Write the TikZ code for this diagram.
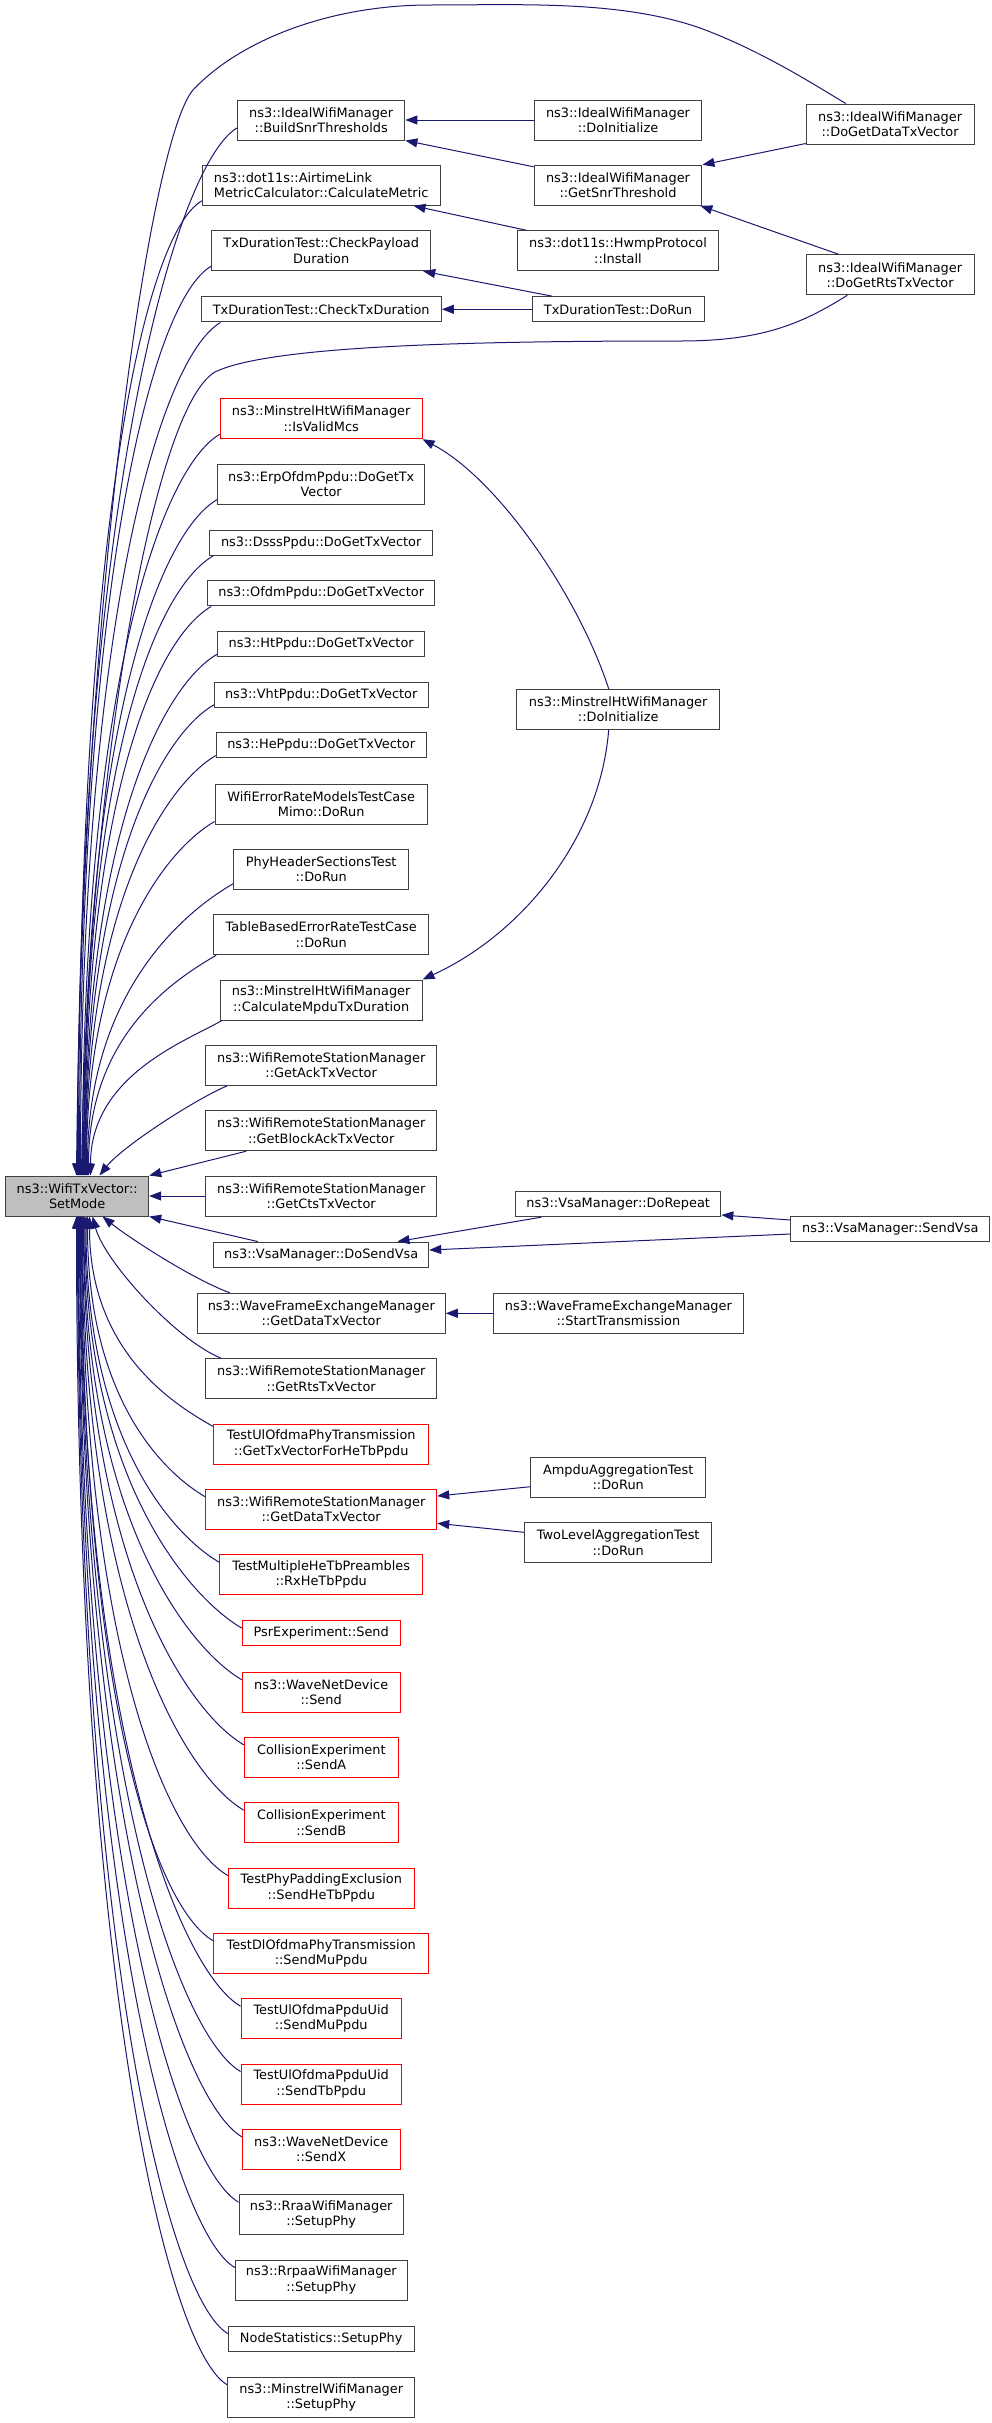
\documentclass[tikz,border=0pt]{standalone}
\usepackage{fontspec}
\setmainfont{DejaVu Sans}
\usetikzlibrary{arrows.meta}
\definecolor{edgeblue}{HTML}{191970}
\definecolor{boxline}{HTML}{404040}
\definecolor{boxgray}{HTML}{BFBFBF}
\begin{document}
\begin{tikzpicture}[x=1pt,y=-1pt,
  box/.style={draw=boxline, line width=1pt, fill=white, inner sep=0pt, minimum height=40pt, align=center, font=\fontsize{12.9}{15.2}\selectfont},
  redbox/.style={box, draw=red},
  boxw/.style={minimum width=#1pt},
  oneline/.style={minimum height=25.3pt},
  edge/.style={draw=edgeblue, line width=1pt, -{Triangle[length=12pt,width=9pt]}}
]
\fill[white] (0,0) rectangle (992,2423);
\useasboundingbox (0,0) rectangle (992,2423);

% ---------- nodes ----------
\node[box, boxw=143, fill=boxgray] (setmode) at (77.2,1196) {ns3::WifiTxVector::\\SetMode};

\node[box, boxw=167.4] (buildsnr) at (321.2,120) {ns3::IdealWifiManager\\::BuildSnrThresholds};
\node[box, boxw=237.7, align=left] (calcmetric) at (321.2,185.3) {ns3::dot11s::AirtimeLink\\MetricCalculator::CalculateMetric};
\node[box, boxw=219] (checkpayload) at (321.2,250.7) {TxDurationTest::CheckPayload\\Duration};
\node[box, boxw=240.3, oneline] (checktx) at (321.2,309.3) {TxDurationTest::CheckTxDuration};
\node[box, boxw=167.8] (idealinit) at (618,120) {ns3::IdealWifiManager\\::DoInitialize};
\node[box, boxw=167.8] (getsnr) at (618,185.3) {ns3::IdealWifiManager\\::GetSnrThreshold};
\node[box, boxw=201.2] (hwmp) at (618,250.7) {ns3::dot11s::HwmpProtocol\\::Install};
\node[box, boxw=172, oneline] (txdorun) at (618,309.3) {TxDurationTest::DoRun};
\node[box, boxw=167.8] (dgd) at (890.1,124) {ns3::IdealWifiManager\\::DoGetDataTxVector};
\node[box, boxw=167.8] (dgr) at (890.1,274.8) {ns3::IdealWifiManager\\::DoGetRtsTxVector};

\node[redbox, boxw=201.7] (isvalid) at (321.2,418.7) {ns3::MinstrelHtWifiManager\\::IsValidMcs};
\node[box, boxw=207] (erp) at (321.2,484) {ns3::ErpOfdmPpdu::DoGetTx\\Vector};
\node[box, boxw=223, oneline] (dsss) at (321.2,542.7) {ns3::DsssPpdu::DoGetTxVector};
\node[box, boxw=227, oneline] (ofdm) at (321.2,593.3) {ns3::OfdmPpdu::DoGetTxVector};
\node[box, boxw=207, oneline] (ht) at (321.2,644) {ns3::HtPpdu::DoGetTxVector};
\node[box, boxw=213.7, oneline] (vht) at (321.2,694.7) {ns3::VhtPpdu::DoGetTxVector};
\node[box, boxw=209.7, oneline] (he) at (321.2,745.3) {ns3::HePpdu::DoGetTxVector};
\node[box, boxw=212.3] (wifierr) at (321.2,804) {WifiErrorRateModelsTestCase\\Mimo::DoRun};
\node[box, boxw=175.4] (phyheader) at (321.2,869.3) {PhyHeaderSectionsTest\\::DoRun};
\node[box, boxw=215] (tablebased) at (321.2,934.7) {TableBasedErrorRateTestCase\\::DoRun};
\node[box, boxw=201.7] (calcmpdu) at (321.2,1000) {ns3::MinstrelHtWifiManager\\::CalculateMpduTxDuration};
\node[box, boxw=203] (mhtinit) at (618.2,709.3) {ns3::MinstrelHtWifiManager\\::DoInitialize};

\node[box, boxw=231] (getack) at (321.2,1065.3) {ns3::WifiRemoteStationManager\\::GetAckTxVector};
\node[box, boxw=231] (getblockack) at (321.2,1130.7) {ns3::WifiRemoteStationManager\\::GetBlockAckTxVector};
\node[box, boxw=231] (getcts) at (321.2,1196) {ns3::WifiRemoteStationManager\\::GetCtsTxVector};
\node[box, boxw=215, oneline] (dosendvsa) at (321.2,1254.7) {ns3::VsaManager::DoSendVsa};
\node[box, boxw=205.3, oneline] (dorepeat) at (618.2,1204) {ns3::VsaManager::DoRepeat};
\node[box, boxw=198.8, oneline] (sendvsa) at (890.3,1229.3) {ns3::VsaManager::SendVsa};
\node[box, boxw=248] (wfegdtv) at (321.3,1313.3) {ns3::WaveFrameExchangeManager\\::GetDataTxVector};
\node[box, boxw=249.4] (starttx) at (618.4,1313.3) {ns3::WaveFrameExchangeManager\\::StartTransmission};
\node[box, boxw=231] (getrts) at (321.2,1378.7) {ns3::WifiRemoteStationManager\\::GetRtsTxVector};
\node[redbox, boxw=215] (testulphy) at (321.2,1444) {TestUlOfdmaPhyTransmission\\::GetTxVectorForHeTbPpdu};
\node[redbox, boxw=231] (wrsmgdtv) at (321.2,1509.3) {ns3::WifiRemoteStationManager\\::GetDataTxVector};
\node[box, boxw=174.6] (ampdu) at (618.2,1477.3) {AmpduAggregationTest\\::DoRun};
\node[box, boxw=187.5] (twolevel) at (618.2,1542.7) {TwoLevelAggregationTest\\::DoRun};
\node[redbox, boxw=203] (testmulti) at (321.2,1574.7) {TestMultipleHeTbPreambles\\::RxHeTbPpdu};
\node[redbox, boxw=157.7, oneline] (psr) at (321.2,1633.3) {PsrExperiment::Send};
\node[redbox, boxw=157.7] (wnsend) at (321.2,1692.3) {ns3::WaveNetDevice\\::Send};
\node[redbox, boxw=154] (senda) at (321.3,1757.3) {CollisionExperiment\\::SendA};
\node[redbox, boxw=154] (sendb) at (321.3,1822.7) {CollisionExperiment\\::SendB};
\node[redbox, boxw=186] (padding) at (321.3,1888) {TestPhyPaddingExclusion\\::SendHeTbPpdu};
\node[redbox, boxw=215] (dlofdma) at (321.2,1953.3) {TestDlOfdmaPhyTransmission\\::SendMuPpdu};
\node[redbox, boxw=160.3] (ulmu) at (321.2,2018.7) {TestUlOfdmaPpduUid\\::SendMuPpdu};
\node[redbox, boxw=160.3] (ultb) at (321.2,2084) {TestUlOfdmaPpduUid\\::SendTbPpdu};
\node[redbox, boxw=157.7] (sendx) at (321.2,2149.3) {ns3::WaveNetDevice\\::SendX};
\node[box, boxw=164.3] (rraa) at (321.2,2214.7) {ns3::RraaWifiManager\\::SetupPhy};
\node[box, boxw=172] (rrpaa) at (321.3,2280) {ns3::RrpaaWifiManager\\::SetupPhy};
\node[box, boxw=185.7, oneline] (nodestat) at (321.2,2338.7) {NodeStatistics::SetupPhy};
\node[box, boxw=187] (minstrelsetup) at (321.2,2397.3) {ns3::MinstrelWifiManager\\::SetupPhy};

% ---------- edges into SetMode from above ----------
\draw[edge] ([xshift=40pt]dgd.north west) .. controls (815,85) and (760,50) .. (700,28) .. controls (620,0) and (520,5) .. (430,5) .. controls (330,5) and (240,40) .. (193,90) .. controls (150,140) and (82,600) .. ([xshift=71.3pt]setmode.north west);
\draw[edge] ([yshift=-8pt]buildsnr.west) .. controls +(-60,35) and +(0,-681) .. ([xshift=72.3pt]setmode.north west);
\draw[edge] ([yshift=5pt]calcmetric.south west) .. controls +(-60,35) and +(0,-634) .. ([xshift=73.3pt]setmode.north west);
\draw[edge] ([yshift=5pt]checkpayload.south west) .. controls +(-60,35) and +(0,-592) .. ([xshift=74.3pt]setmode.north west);
\draw[edge] ([xshift=20pt]checktx.south west) .. controls +(-60,35) and +(0,-555) .. ([xshift=75.3pt]setmode.north west);
\draw[edge] ([xshift=41.6pt]dgr.south west) .. controls (800,325) and (760,341) .. (680,341) .. controls (480,341) and (270,345) .. (215,372) .. controls (150,410) and (87,800) .. ([xshift=76.3pt]setmode.north west);
\draw[edge] ([yshift=5pt]isvalid.south west) .. controls +(-60,35) and +(0,-483) .. ([xshift=77.3pt]setmode.north west);
\draw[edge] ([yshift=5pt]erp.south west) .. controls +(-60,35) and +(0,-440) .. ([xshift=78.3pt]setmode.north west);
\draw[edge] ([xshift=4pt]dsss.south west) .. controls +(-60,35) and +(0,-404) .. ([xshift=78.8pt]setmode.north west);
\draw[edge] ([xshift=4pt]ofdm.south west) .. controls +(-58,34) and +(0,-370) .. ([xshift=79.3pt]setmode.north west);
\draw[edge] ([yshift=3pt]ht.south west) .. controls +(-55,32) and +(0,-340) .. ([xshift=79.8pt]setmode.north west);
\draw[edge] ([yshift=3pt]vht.south west) .. controls +(-52,30) and +(0,-307) .. ([xshift=80.3pt]setmode.north west);
\draw[edge] ([yshift=3pt]he.south west) .. controls +(-49,29) and +(0,-274) .. ([xshift=80.8pt]setmode.north west);
\draw[edge] ([yshift=3pt]wifierr.south west) .. controls +(-45,26) and +(0,-231) .. ([xshift=81.3pt]setmode.north west);
\draw[edge] ([yshift=6pt]phyheader.south west) .. controls +(-41.5,24) and +(0,-190) .. ([xshift=82.3pt]setmode.north west);
\draw[edge] ([xshift=3pt]tablebased.south west) .. controls +(-37,22) and +(0,-144) .. ([xshift=83.3pt]setmode.north west);
\draw[edge] ([xshift=2pt]calcmpdu.south west) .. controls +(-33,19.5) and +(0,-101) .. ([xshift=85.3pt]setmode.north west);
\draw[edge] ([xshift=22pt]getack.south west) .. controls +(-35,15) and +(22,-28) .. ([xshift=94.3pt]setmode.north west);
\draw[edge] ([xshift=41pt]getblockack.south west) -- (setmode.north east);
\draw[edge] (getcts.west) -- (setmode.east);

% ---------- edges into SetMode from below ----------
\draw[edge] ([xshift=44.6pt]dosendvsa.north west) -- (setmode.south east);
\draw[edge] ([xshift=33pt]wfegdtv.north west) .. controls +(-40,-15) and +(25,20) .. ([xshift=97.3pt]setmode.south west);
\draw[edge] ([xshift=16pt]getrts.north west) .. controls +(-45,-18) and +(12,45) .. ([xshift=87.3pt]setmode.south west);
\draw[edge] ([yshift=-3pt]testulphy.north west) .. controls +(-37,-21) and +(0,137) .. ([xshift=84.3pt]setmode.south west);
\draw[edge] ([yshift=-8pt]wrsmgdtv.north west) .. controls +(-41,-24) and +(0,183) .. ([xshift=82.3pt]setmode.south west);
\draw[edge] ([yshift=-8pt]testmulti.north west) .. controls +(-45,-26) and +(0,225) .. ([xshift=80.8pt]setmode.south west);
\draw[edge] ([yshift=-8pt]psr.north west) .. controls +(-49,-28.5) and +(0,268) .. ([xshift=79.8pt]setmode.south west);
\draw[edge] ([yshift=-8pt]wnsend.north west) .. controls +(-52,-30) and +(0,302) .. ([xshift=78.8pt]setmode.south west);
\draw[edge] ([yshift=-8pt]senda.north west) .. controls +(-56,-32.5) and +(0,344) .. ([xshift=78.3pt]setmode.south west);
\draw[edge] ([yshift=-8pt]sendb.north west) .. controls +(-60,-35) and +(0,387) .. ([xshift=77.3pt]setmode.south west);
\draw[edge] ([yshift=-8pt]padding.north west) .. controls +(-60,-35) and +(0,429) .. ([xshift=76.8pt]setmode.south west);
\draw[edge] ([yshift=-8pt]dlofdma.north west) .. controls +(-60,-35) and +(0,471) .. ([xshift=76.3pt]setmode.south west);
\draw[edge] ([yshift=-8pt]ulmu.north west) .. controls +(-60,-35) and +(0,514) .. ([xshift=75.3pt]setmode.south west);
\draw[edge] ([yshift=-8pt]ultb.north west) .. controls +(-60,-35) and +(0,556) .. ([xshift=74.8pt]setmode.south west);
\draw[edge] ([yshift=-8pt]sendx.north west) .. controls +(-60,-35) and +(0,599) .. ([xshift=74.3pt]setmode.south west);
\draw[edge] ([yshift=-8pt]rraa.north west) .. controls +(-60,-35) and +(0,641) .. ([xshift=73.3pt]setmode.south west);
\draw[edge] ([yshift=-8pt]rrpaa.north west) .. controls +(-60,-35) and +(0,684) .. ([xshift=72.8pt]setmode.south west);
\draw[edge] ([yshift=-8pt]nodestat.north west) .. controls +(-60,-35) and +(0,727) .. ([xshift=72.3pt]setmode.south west);
\draw[edge] ([yshift=-8pt]minstrelsetup.north west) .. controls +(-60,-35) and +(0,760) .. ([xshift=71.3pt]setmode.south west);

% ---------- other edges ----------
\draw[edge] (idealinit.west) -- (buildsnr.east);
\draw[edge] ([yshift=-2pt]getsnr.north west) -- (buildsnr.south east);
\draw[edge] ([xshift=9pt]hwmp.north west) -- ([xshift=-27pt]calcmetric.south east);
\draw[edge] ([xshift=20.5pt]txdorun.north west) -- ([xshift=-8pt]checkpayload.south east);
\draw[edge] (txdorun.west) -- (checktx.east);
\draw[edge] ([yshift=1pt]dgd.south west) -- (getsnr.north east);
\draw[edge] ([xshift=33pt]dgr.north west) -- ([xshift=-2pt]getsnr.south east);
\draw[edge] ([xshift=-9.5pt]mhtinit.north) .. controls (580,600) and (500,480) .. (isvalid.south east);
\draw[edge] ([xshift=-9.5pt]mhtinit.south) .. controls (600,840) and (520,935) .. (calcmpdu.north east);
\draw[edge] ([xshift=26.3pt]dorepeat.south west) -- ([xshift=-31.7pt]dosendvsa.north east);
\draw[edge] ([yshift=-4.7pt]sendvsa.west) -- ([yshift=4.7pt]dosendvsa.east);
\draw[edge] ([yshift=9.3pt]sendvsa.west) -- ([yshift=-11pt]dorepeat.east);
\draw[edge] (starttx.west) -- (wfegdtv.east);
\draw[edge] ([yshift=-9.4pt]ampdu.west) -- ([yshift=13.3pt]wrsmgdtv.east);
\draw[edge] ([yshift=10.4pt]twolevel.west) -- ([yshift=-14pt]wrsmgdtv.east);
\end{tikzpicture}
\end{document}
